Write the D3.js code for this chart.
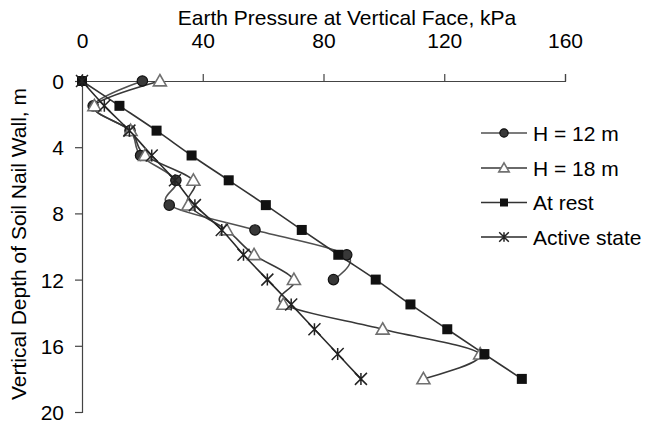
<!DOCTYPE html>
<html>
<head>
<meta charset="utf-8">
<script src="https://cdn.jsdelivr.net/npm/d3@7"></script>
<style>
html,body{margin:0;padding:0;background:#fff;}
svg{display:block;font-family:"Liberation Sans",Arial,sans-serif;}
</style>
</head>
<body>
<svg id="chart" width="646" height="424"></svg>
<script>
const depthsAll = [0, 1.5, 3, 4.5, 6, 7.5, 9, 10.5, 12, 13.5, 15, 16.5, 18];
const h12 = [20, 3.7, 15.9, 19.4, 31.1, 28.9, 57.3, 87.7, 83.3];
const h18 = [25.8, 4.1, 16.1, 20.9, 36.9, 35.2, 47.9, 57.0, 70.2, 66.7, 99.6, 131.9, 113.1];
const atRest = [0, 12.4, 24.7, 36.3, 48.6, 60.9, 72.8, 84.9, 97.3, 108.8, 121.0, 133.3, 145.7];
const active = [0, 7.4, 15.7, 23.1, 30.8, 37.4, 46.3, 53.5, 61.4, 69.3, 77.0, 84.7, 92.4];
const xTicks = [0, 40, 80, 120, 160];
const yTicks = [0, 4, 8, 12, 16, 20];
const seriesNames = ["H = 12 m", "H = 18 m", "At rest", "Active state"];

const svg = d3.select("#chart");
const x = d3.scaleLinear().domain([0, 160]).range([82, 565]);
const y = d3.scaleLinear().domain([0, 20]).range([81, 412]);
const FS = 21;

// axes
const xAxis = svg.append("g").attr("transform", `translate(0,${y(0)})`)
  .call(d3.axisTop(x).tickValues(xTicks).tickSize(7).tickPadding(26).tickFormat(d3.format("d")));
const yAxis = svg.append("g").attr("transform", `translate(${x(0)},0)`)
  .call(d3.axisLeft(y).tickValues(yTicks).tickSize(7).tickPadding(11).tickFormat(d3.format("d")));
[xAxis, yAxis].forEach(g => {
  g.select(".domain").attr("stroke", "#444").attr("stroke-width", 1.2);
  g.selectAll(".tick line").attr("stroke", "#444").attr("stroke-width", 1.2);
  g.selectAll(".tick text").attr("fill", "#000").style("font-size", FS + "px")
    .style("font-family", '"Liberation Sans", Arial, sans-serif');
});
xAxis.selectAll(".tick text").attr("dy", 0);
yAxis.selectAll(".tick text").attr("dy", "0.36em");

// titles
svg.append("text").attr("x", 347).attr("y", 25).attr("text-anchor", "middle")
  .style("font-size", FS + "px").text("Earth Pressure at Vertical Face, kPa");
svg.append("text").attr("transform", "translate(26,244) rotate(-90)").attr("text-anchor", "middle")
  .style("font-size", FS + "px").text("Vertical Depth of Soil Nail Wall, m");

const curve = d3.curveCatmullRom.alpha(0);
const mk = vals => vals.map((v, i) => ({ x: v, d: depthsAll[i] }));
const series = [
  { name: seriesNames[0], data: mk(h12), line: "#505050", type: "circle" },
  { name: seriesNames[1], data: mk(h18), line: "#383838", type: "triangle" },
  { name: seriesNames[2], data: mk(atRest), line: "#333", type: "square" },
  { name: seriesNames[3], data: mk(active), line: "#2a2a2a", type: "star" }
];

const line = d3.line().x(p => x(p.x)).y(p => y(p.d)).curve(curve);

function drawMarker(g, type, cx, cy, scale) {
  const s = scale || 1;
  if (type === "circle") {
    g.append("circle").attr("cx", cx).attr("cy", cy).attr("r", 5.2 * s)
      .attr("fill", "#383838").attr("stroke", "#111").attr("stroke-width", 1.2);
  } else if (type === "triangle") {
    const r = 6.5 * s;
    g.append("path").attr("d", `M${cx},${cy - r}L${cx + r},${cy + r * 0.75}L${cx - r},${cy + r * 0.75}Z`)
      .attr("fill", "#fff").attr("stroke", "#707070").attr("stroke-width", 1.6);
  } else if (type === "square") {
    const r = 5 * s;
    g.append("rect").attr("x", cx - r).attr("y", cy - r).attr("width", 2 * r).attr("height", 2 * r)
      .attr("fill", "#111");
  } else if (type === "star") {
    const r = 6 * s;
    g.append("path").attr("d", `M${cx - r},${cy - r}L${cx + r},${cy + r}M${cx - r},${cy + r}L${cx + r},${cy - r}M${cx},${cy - r}L${cx},${cy + r}`)
      .attr("stroke", "#222").attr("stroke-width", 1.5).attr("fill", "none");
  }
}

series.forEach(s => {
  svg.append("path").datum(s.data).attr("d", line)
    .attr("fill", "none").attr("stroke", s.line).attr("stroke-width", 1.6);
});
series.forEach(s => {
  const g = svg.append("g");
  s.data.forEach(p => drawMarker(g, s.type, x(p.x), y(p.d)));
});

// legend
const legY = [133, 168, 202.5, 237];
series.forEach((s, i) => {
  const g = svg.append("g");
  g.append("line").attr("x1", 481).attr("x2", 527).attr("y1", legY[i]).attr("y2", legY[i])
    .attr("stroke", s.line).attr("stroke-width", 1.6);
  drawMarker(g, s.type, 504, legY[i], 0.8);
  g.append("text").attr("x", 533).attr("y", legY[i]).attr("dy", "0.36em")
    .style("font-size", FS + "px").text(s.name);
});
</script>
</body>
</html>
